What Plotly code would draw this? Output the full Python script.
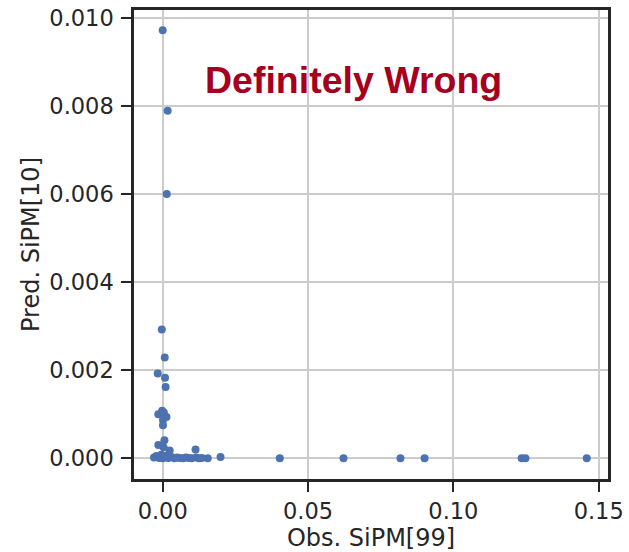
import plotly.graph_objects as go

# Observed vs. predicted SiPM signal
obs = [
    0.0000, 0.0017, 0.0014,
    -0.0003, 0.0007, -0.0017, 0.0008, 0.0010,
    -0.0002, -0.0015, 0.0013, 0.0001, 0.0001, 0.0004,
    0.0006, -0.0015, 0.0003, 0.0024, 0.0113,
    -0.0030, -0.0022, -0.0012, -0.0005, 0.0000, 0.0005, 0.0010, 0.0015,
    0.0020, 0.0030, 0.0040, 0.0050, 0.0060, 0.0070, 0.0080, 0.0090,
    0.0100, 0.0115, 0.0125, 0.0135, 0.0155, 0.0199,
    0.0403, 0.0622, 0.0818, 0.0901, 0.1235, 0.1248, 0.1459,
]
pred = [
    0.00973, 0.00790, 0.00601,
    0.00293, 0.00229, 0.00193, 0.00183, 0.00162,
    0.00108, 0.00100, 0.00094, 0.00087, 0.00075, 0.00104,
    0.00041, 0.00030, 0.00025, 0.00018, 0.00020,
    0.00002, 0.00005, 0.00001, 0.00008, 0.00000, 0.00003, 0.00006, 0.00002,
    0.00001, 0.00003, 0.00000, 0.00002, 0.00001, 0.00000, 0.00002, 0.00001,
    0.00000, 0.00002, 0.00000, 0.00001, 0.00000, 0.00003,
    0.00000, 0.00000, 0.00000, 0.00000, 0.00000, 0.00000, 0.00000,
]

x_ticks = [0.00, 0.05, 0.10, 0.15]
y_ticks = [0.000, 0.002, 0.004, 0.006, 0.008, 0.010]

ink = "#262626"
tick_font = dict(family="DejaVu Sans", size=22.5, color=ink)
title_font = dict(family="DejaVu Sans", size=24, color=ink)

fig = go.Figure(
    go.Scatter(
        x=obs, y=pred, mode="markers",
        marker=dict(color="#4C72B0", size=8, line=dict(width=0)),
        showlegend=False,
    )
)

axis_common = dict(
    showline=True, linecolor=ink, linewidth=2.5, mirror=True,
    ticks="outside", ticklen=10, tickwidth=2, tickcolor=ink,
    showgrid=True, gridcolor="#cccccc", gridwidth=1.5,
    zeroline=False, tickfont=tick_font, automargin=False,
)

fig.update_xaxes(
    range=[-0.00987, 0.1532], tickvals=x_ticks,
    ticktext=[f"{v:.2f}" for v in x_ticks],
    ticklabelstandoff=0,
    title=dict(text="Obs. SiPM[99]", font=title_font, standoff=6),
    **axis_common,
)
fig.update_yaxes(
    range=[-0.00047, 0.01019], tickvals=y_ticks,
    ticktext=[f"{v:.3f}" for v in y_ticks],
    ticklabelstandoff=3,
    title=dict(text="Pred. SiPM[10]", font=title_font, standoff=3),
    **axis_common,
)

fig.add_annotation(
    text="<b>Definitely Wrong</b>", x=0.0658, y=0.0086,
    xref="x", yref="y", showarrow=False,
    font=dict(family="Liberation Sans", size=37.5, color="#A5001E"),
)

fig.update_layout(
    width=629, height=552,
    margin=dict(l=134, r=21, t=10, b=73),
    plot_bgcolor="white", paper_bgcolor="white",
)

fig.write_html("out.html")
